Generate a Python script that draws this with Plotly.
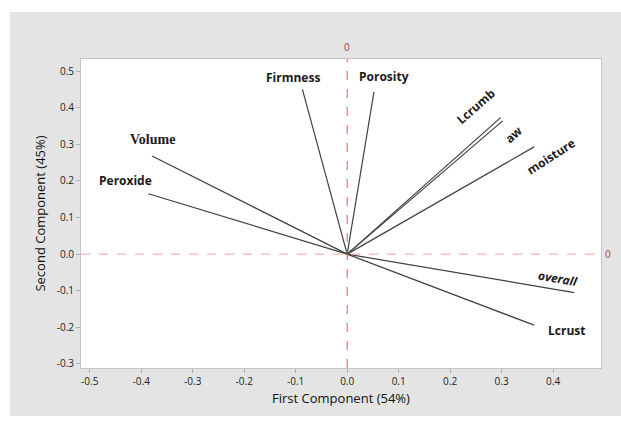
import plotly.graph_objects as go

# PCA loadings (first and second component) for each variable
variables = ["Volume", "Peroxide", "Firmness", "Porosity", "Lcrumb", "aw", "moisture", "overall", "Lcrust"]
pc1 = [-0.379, -0.386, -0.087, 0.052, 0.298, 0.302, 0.363, 0.441, 0.363]
pc2 = [0.268, 0.165, 0.450, 0.443, 0.373, 0.364, 0.293, -0.105, -0.194]

x_ticks = [-0.5, -0.4, -0.3, -0.2, -0.1, 0.0, 0.1, 0.2, 0.3, 0.4]
y_ticks = [-0.3, -0.2, -0.1, 0.0, 0.1, 0.2, 0.3, 0.4, 0.5]

# label placement (pixel offset from vector tip), rotation and font per variable
label_style = {
    "Volume":   dict(dx=0,   dy=17,  angle=0,   family="Liberation Serif", size=14, italic=False),
    "Peroxide": dict(dx=-23, dy=13,  angle=0,   family="Open Sans", size=12, italic=False),
    "Firmness": dict(dx=-9,  dy=12,  angle=0,   family="Open Sans", size=12, italic=False),
    "Porosity": dict(dx=10,  dy=15,  angle=0,   family="Open Sans", size=12, italic=False),
    "Lcrumb":   dict(dx=-25, dy=11,  angle=-41, family="Open Sans", size=12, italic=False),
    "aw":       dict(dx=11,  dy=-14, angle=-42, family="Open Sans", size=12, italic=False),
    "moisture": dict(dx=17,  dy=-10, angle=-33, family="Open Sans", size=12, italic=False),
    "overall":  dict(dx=-16, dy=14,  angle=10,  family="Open Sans", size=12, italic=True),
    "Lcrust":   dict(dx=32,  dy=-5,  angle=0,   family="Open Sans", size=12, italic=False),
}

fig = go.Figure()

for name, x, y in zip(variables, pc1, pc2):
    fig.add_trace(go.Scatter(
        x=[0, x], y=[0, y], mode="lines",
        line=dict(color="#404040", width=1.2),
        hoverinfo="skip", showlegend=False,
    ))
    s = label_style[name]
    txt = f"<b><i>{name}</i></b>" if s["italic"] else f"<b>{name}</b>"
    fig.add_annotation(
        x=x, y=y, xref="x", yref="y", text=txt, showarrow=False,
        xshift=s["dx"], yshift=s["dy"], textangle=s["angle"],
        font=dict(family=s["family"], size=s["size"], color="#1a1a1a"),
    )

X_RANGE = [-0.517, 0.493]
Y_RANGE = [-0.311, 0.533]

# dashed reference lines through the origin
fig.add_shape(type="line", xref="x", yref="paper", x0=0, x1=0, y0=0, y1=1,
              line=dict(color="#e05a5a", width=1, dash="dash"))
fig.add_shape(type="line", xref="paper", yref="y", x0=0, x1=1, y0=0, y1=0,
              line=dict(color="#f2a2a2", width=1, dash="dash"))
fig.add_annotation(x=0, y=1, xref="x", yref="paper", text="0", showarrow=False,
                   yanchor="bottom", yshift=3,
                   font=dict(family="Open Sans", size=10, color="#b03a3a"))
fig.add_annotation(x=1, y=0, xref="paper", yref="y", text="0", showarrow=False,
                   xanchor="left", xshift=2,
                   font=dict(family="Open Sans", size=10, color="#b03a3a"))

# white margins around the grey chart frame
for x0, x1, y0, y1 in [(-0.2, -0.1365, -0.3, 1.3), (-0.2, 1.2, 1.152, 1.3), (-0.2, 1.2, -0.3, -0.1553)]:
    fig.add_shape(type="rect", xref="paper", yref="paper", x0=x0, x1=x1, y0=y0, y1=y1,
                  fillcolor="white", line=dict(width=0), layer="below")

axis_common = dict(
    showgrid=False, zeroline=False, showline=True, linecolor="#c4c4c4", linewidth=1,
    mirror=True, ticks="outside", ticklen=4, tickcolor="#b0b0b0",
    tickfont=dict(family="Open Sans", size=10, color="#222222"),
)

fig.update_layout(
    width=621, height=421,
    margin=dict(l=81, r=20, t=59, b=53),
    paper_bgcolor="#e4e4e4", plot_bgcolor="white",
    xaxis=dict(range=X_RANGE, tickvals=x_ticks, ticktext=[f"{v:.1f}" for v in x_ticks],
               title=dict(text="First Component (54%)", standoff=6,
                          font=dict(family="Open Sans", size=13, color="#111111")),
               **axis_common),
    yaxis=dict(range=Y_RANGE, tickvals=y_ticks, ticktext=[f"{v:.1f}" for v in y_ticks],
               title=dict(text="Second Component (45%)", standoff=8,
                          font=dict(family="Open Sans", size=13, color="#111111")),
               **axis_common),
)

fig.write_html("out.html")
